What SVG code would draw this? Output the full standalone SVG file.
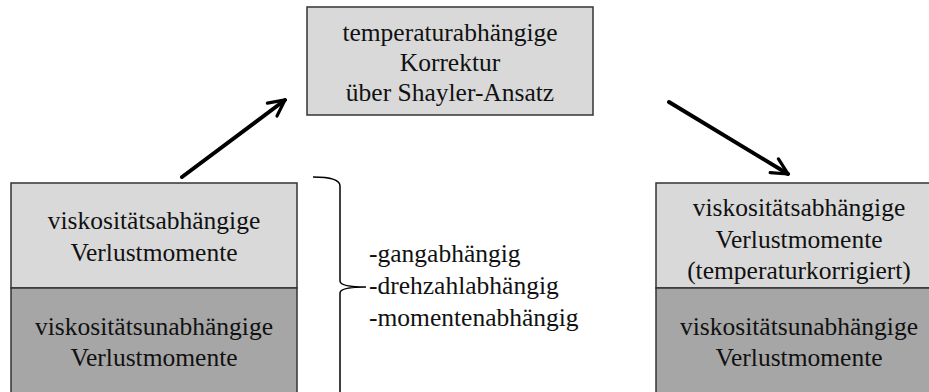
<svg xmlns="http://www.w3.org/2000/svg" width="929" height="392" viewBox="0 0 929 392">
  <style>
    .light { fill: #d9d9d9; stroke: #333333; stroke-width: 1.5; }
    .dark { fill: #a6a6a6; stroke: #333333; stroke-width: 1.5; }
    .lbl { font-family: "Liberation Serif", "Times New Roman", serif; font-size: 25.5px; fill: #111111; text-anchor: middle; }
    .list { font-family: "Liberation Serif", "Times New Roman", serif; font-size: 25.5px; fill: #111111; }
    .arrow { fill: none; stroke: #000000; stroke-width: 4; stroke-linecap: round; }
    .brace { fill: none; stroke: #000000; stroke-width: 1.5; }
  </style>
  <defs>
    <marker id="head" viewBox="0 0 10 10" refX="9" refY="5" markerWidth="5" markerHeight="5" orient="auto" markerUnits="strokeWidth">
      <path d="M1,1 L9,5 L1,9" fill="none" stroke="#000000" stroke-width="1.6" stroke-linecap="round" stroke-linejoin="miter"/>
    </marker>
  </defs>
  <rect width="929" height="392" fill="#ffffff"/>

  <g id="correction">
    <rect class="light" x="307" y="7" width="286" height="108"/>
    <text class="lbl" x="450" y="41">temperaturabhängige</text>
    <text class="lbl" x="450" y="71">Korrektur</text>
    <text class="lbl" x="450" y="101">über Shayler-Ansatz</text>
  </g>

  <g id="left-stack">
    <rect class="light" x="11" y="183" width="286" height="105"/>
    <rect class="dark" x="11" y="288" width="286" height="110"/>
    <text class="lbl" x="154" y="229">viskositätsabhängige</text>
    <text class="lbl" x="154" y="261">Verlustmomente</text>
    <text class="lbl" x="154" y="335">viskositätsunabhängige</text>
    <text class="lbl" x="154" y="366">Verlustmomente</text>
  </g>

  <g id="right-stack">
    <rect class="light" x="656" y="183" width="286" height="105"/>
    <rect class="dark" x="656" y="288" width="286" height="110"/>
    <text class="lbl" x="799" y="216">viskositätsabhängige</text>
    <text class="lbl" x="799" y="248">Verlustmomente</text>
    <text class="lbl" x="799" y="279">(temperaturkorrigiert)</text>
    <text class="lbl" x="799" y="335">viskositätsunabhängige</text>
    <text class="lbl" x="799" y="366">Verlustmomente</text>
  </g>

  <g id="properties">
    <path class="brace" d="M313,177 Q340,177 340,186 L340,281 Q340,287 366,287 Q340,287 340,293 L340,392"/>
    <text class="list" x="369" y="262">-gangabhängig</text>
    <text class="list" x="369" y="294">-drehzahlabhängig</text>
    <text class="list" x="369" y="326">-momentenabhängig</text>
  </g>

  <g id="connectors">
    <line class="arrow" x1="182" y1="177" x2="285" y2="100" marker-end="url(#head)"/>
    <line class="arrow" x1="669" y1="102" x2="788" y2="174" marker-end="url(#head)"/>
  </g>
</svg>
